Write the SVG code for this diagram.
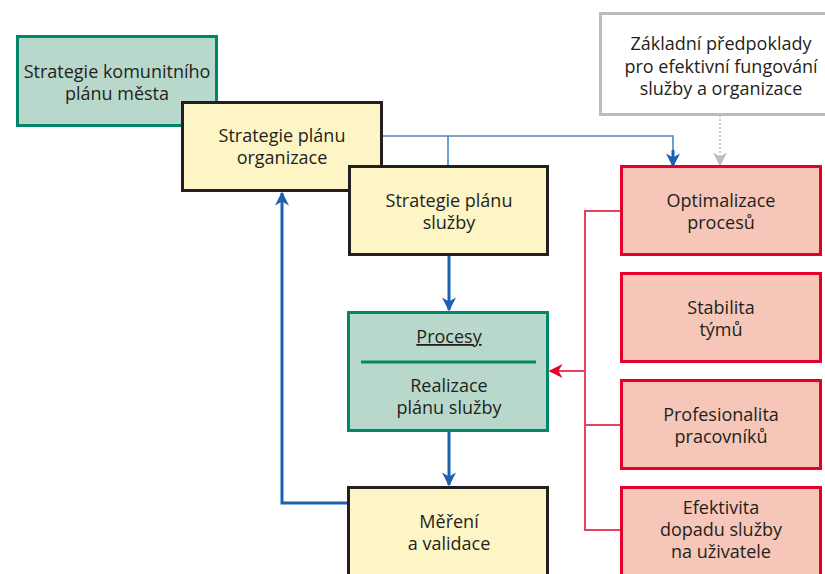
<svg xmlns="http://www.w3.org/2000/svg" width="825" height="574" viewBox="0 0 825 574">
<defs>
<style>
text{font-family:"Open Sans","Noto Sans",sans-serif;font-size:18px;fill:#231f20;text-anchor:middle;font-variant-ligatures:none}
.g{fill:#b8d8cc;stroke:#00876a;stroke-width:3}
.y{fill:#fdf5c5;stroke:#231f20;stroke-width:3}
.r{fill:#f6c6b8;stroke:#e4002b;stroke-width:3}
.gr{fill:#fff;stroke:#bcbcbc;stroke-width:3}
.bl{fill:none;stroke:#1a62b0;stroke-width:3}
.blt{fill:none;stroke:#4d86c5;stroke-width:1.6}
.rl{fill:none;stroke:#e8405e;stroke-width:2}
</style>
<marker id="abs" viewBox="0 0 10 10" refX="9" refY="5" markerWidth="14" markerHeight="14" markerUnits="userSpaceOnUse" orient="auto"><path d="M0,0 L10,5 L0,10 L3,5 Z" fill="#1a62b0"/></marker>
<marker id="ag" viewBox="0 0 10 10" refX="9" refY="5" markerWidth="14" markerHeight="14" markerUnits="userSpaceOnUse" orient="auto"><path d="M0,0 L10,5 L0,10 L3,5 Z" fill="#bcbcbc"/></marker>
<marker id="ar" viewBox="0 0 10 10" refX="9" refY="5" markerWidth="14" markerHeight="14" markerUnits="userSpaceOnUse" orient="auto"><path d="M0,0 L10,5 L0,10 L3,5 Z" fill="#e4002b"/></marker>
</defs>

<g id="connectors">
<path class="blt" d="M382,136 H673 V150"/>
<path class="bl" d="M673,150 V166" marker-end="url(#abs)" stroke-width="2"/>
<path class="blt" d="M448,136 V166"/>
<path d="M720,115 V165" fill="none" stroke="#bcbcbc" stroke-width="1.5" stroke-dasharray="2,2" marker-end="url(#ag)"/>
<path class="bl" d="M449,256 V310" marker-end="url(#abs)"/>
<path class="bl" d="M449,432 V485" marker-end="url(#abs)"/>
<path class="bl" d="M348,503 H282 V193" marker-end="url(#abs)"/>
<path class="rl" d="M621,211 H585 V530 H621 M585,425 H621"/>
<path class="rl" d="M585,371 H550" marker-end="url(#ar)"/>
</g>

<g id="n-komunitni">
<rect class="g" x="17.5" y="36.5" width="199" height="89"/>
<text x="117" y="78">Strategie komunitního</text>
<text x="117" y="100">plánu města</text>
</g>

<g id="n-organizace">
<rect class="y" x="182.5" y="102.5" width="199" height="88"/>
<text x="282" y="142">Strategie plánu</text>
<text x="282" y="164">organizace</text>
</g>

<g id="n-sluzby">
<rect class="y" x="349.5" y="166.5" width="198" height="88"/>
<text x="449" y="207">Strategie plánu</text>
<text x="449" y="229">služby</text>
</g>

<g id="n-procesy">
<rect class="g" x="348.5" y="312.5" width="199" height="118"/>
<text x="449" y="343" text-decoration="underline">Procesy</text>
<line x1="361" y1="362" x2="536" y2="362" stroke="#00876a" stroke-width="3"/>
<text x="449" y="392">Realizace</text>
<text x="449" y="414">plánu služby</text>
</g>

<g id="n-mereni">
<rect class="y" x="348.5" y="487.5" width="199" height="100"/>
<text x="449" y="528">Měření</text>
<text x="449" y="550">a validace</text>
</g>

<g id="n-predpoklady">
<rect class="gr" x="600.5" y="13.5" width="240" height="101"/>
<text x="721" y="50">Základní předpoklady</text>
<text x="721" y="73">pro efektivní fungování</text>
<text x="721" y="95">služby a organizace</text>
</g>

<g id="n-optimalizace">
<rect class="r" x="621.5" y="166.5" width="199" height="88"/>
<text x="721" y="207">Optimalizace</text>
<text x="721" y="229">procesů</text>
</g>

<g id="n-stabilita">
<rect class="r" x="621.5" y="273.5" width="199" height="88"/>
<text x="721" y="314">Stabilita</text>
<text x="721" y="336">týmů</text>
</g>

<g id="n-profesionalita">
<rect class="r" x="621.5" y="380.5" width="199" height="88"/>
<text x="721" y="421">Profesionalita</text>
<text x="721" y="443">pracovníků</text>
</g>

<g id="n-efektivita">
<rect class="r" x="621.5" y="487.5" width="199" height="100"/>
<text x="721" y="514">Efektivita</text>
<text x="721" y="536">dopadu služby</text>
<text x="721" y="558">na uživatele</text>
</g>
</svg>
